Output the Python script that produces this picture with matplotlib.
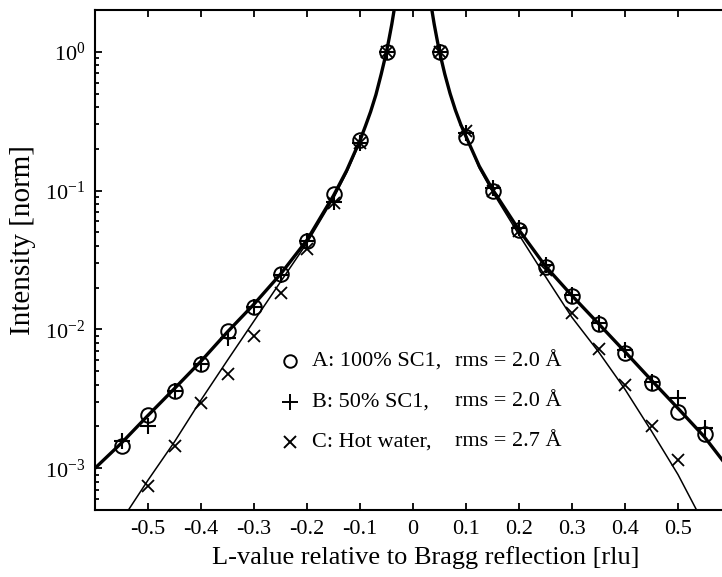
import numpy as np
import matplotlib
matplotlib.use("Agg")
import matplotlib.pyplot as plt
from matplotlib.ticker import FixedLocator, LogLocator, NullFormatter, FixedFormatter

# ── data (log intensity vs L) ──
L_AB = [-0.55, -0.5, -0.45, -0.4, -0.35, -0.3, -0.25, -0.2, -0.15, -0.1, -0.05,
        0.05, 0.1, 0.15, 0.2, 0.25, 0.3, 0.35, 0.4, 0.45, 0.5, 0.55]
I_A = [1.44e-3, 2.42e-3, 3.6e-3, 5.6e-3, 9.7e-3, 1.46e-2, 2.5e-2, 4.35e-2, 9.5e-2, 0.23, 1.0,
       1.0, 0.245, 0.10, 0.052, 0.028, 0.0174, 0.011, 6.8e-3, 4.1e-3, 2.55e-3, 1.75e-3]
I_B = [1.57e-3, 2.0e-3, 3.6e-3, 5.6e-3, 8.7e-3, 1.45e-2, 2.45e-2, 4.3e-2, 8.3e-2, 0.22, 1.0,
       1.0, 0.26, 0.105, 0.054, 0.029, 0.0178, 0.0112, 7.1e-3, 4.2e-3, 3.2e-3, 1.95e-3]
L_C = [-0.5, -0.45, -0.4, -0.35, -0.3, -0.25, -0.2, -0.15, -0.1, -0.05,
       0.05, 0.1, 0.15, 0.2, 0.25, 0.3, 0.35, 0.4, 0.45, 0.5]
I_C = [7.5e-4, 1.44e-3, 2.94e-3, 4.8e-3, 8.9e-3, 1.82e-2, 3.8e-2, 8.1e-2, 0.22, 1.0,
       1.0, 0.27, 0.10, 0.051, 0.027, 0.0132, 7.2e-3, 4.0e-3, 2.0e-3, 1.15e-3]

# fitted curves (traced points)
FIT_AB_L = [-0.6, -0.55, -0.5, -0.45, -0.4, -0.35, -0.3, -0.25, -0.2, -0.15, -0.125,
            -0.1, -0.09, -0.08, -0.07, -0.06, -0.05, -0.045, -0.04, -0.033]
FIT_AB_I = [1.0e-3, 1.52e-3, 2.4e-3, 3.75e-3, 5.9e-3, 9.6e-3, 1.52e-2, 2.5e-2, 4.4e-2, 9.2e-2, 0.14,
            0.23, 0.29, 0.37, 0.49, 0.69, 1.0, 1.25, 1.58, 2.3]
FIT_AB_R_L = [0.033, 0.04, 0.045, 0.05, 0.06, 0.07, 0.08, 0.09, 0.1, 0.125, 0.15, 0.2,
              0.25, 0.3, 0.35, 0.4, 0.45, 0.5, 0.55, 0.6]
FIT_AB_R_I = [2.3, 1.58, 1.25, 1.0, 0.69, 0.5, 0.38, 0.3, 0.245, 0.15, 0.102, 0.052,
              0.0285, 0.0175, 0.011, 0.0069, 0.0043, 0.0027, 0.00168, 0.00095]
FIT_C_L = [-0.54, -0.5, -0.45, -0.4, -0.35, -0.3, -0.25, -0.2, -0.15, -0.125,
           -0.1, -0.09, -0.08, -0.07, -0.06, -0.05, -0.045, -0.04, -0.033]
FIT_C_I = [4.8e-4, 8.2e-4, 1.55e-3, 3.1e-3, 6.0e-3, 1.15e-2, 2.2e-2, 4.2e-2, 8.8e-2, 0.135,
           0.225, 0.29, 0.37, 0.49, 0.69, 1.0, 1.25, 1.58, 2.3]
FIT_C_R_L = [0.033, 0.04, 0.045, 0.05, 0.06, 0.07, 0.08, 0.09, 0.1, 0.125, 0.15, 0.2,
             0.25, 0.3, 0.35, 0.4, 0.45, 0.5, 0.54]
FIT_C_R_I = [2.3, 1.58, 1.25, 1.0, 0.69, 0.5, 0.38, 0.3, 0.25, 0.145, 0.098, 0.048,
             0.024, 0.0122, 6.9e-3, 3.7e-3, 1.85e-3, 9.0e-4, 4.6e-4]

XTICKS = [-0.5, -0.4, -0.3, -0.2, -0.1, 0, 0.1, 0.2, 0.3, 0.4, 0.5]
XTICK_LABELS = ["-0.5", "-0.4", "-0.3", "-0.2", "-0.1", "0", "0.1", "0.2", "0.3", "0.4", "0.5"]
YTICKS = [1e-3, 1e-2, 1e-1, 1e0]
YTICK_LABELS = [r"$10^{-3}$", r"$10^{-2}$", r"$10^{-1}$", r"$10^{0}$"]
LEGEND_NAMES = ["A: 100% SC1,", "B: 50% SC1,", "C: Hot water,"]
LEGEND_RMS = ["rms = 2.0 Å", "rms = 2.0 Å", "rms = 2.7 Å"]

SERIF = "Liberation Serif"
plt.rcParams.update({
    "font.family": SERIF, "mathtext.fontset": "custom",
    "mathtext.rm": SERIF, "mathtext.it": SERIF + ":italic", "mathtext.default": "regular",
    "axes.unicode_minus": False, "axes.linewidth": 1.5,
})

fig = plt.figure(figsize=(7.22, 5.77), dpi=100)
ax = fig.add_axes([95 / 722, 67 / 577, 636 / 722, 500 / 577])

# fits
ax.plot(FIT_AB_L, FIT_AB_I, color="black", lw=2.4, zorder=2)
ax.plot(FIT_AB_R_L, FIT_AB_R_I, color="black", lw=2.4, zorder=2)
ax.plot(FIT_C_L, FIT_C_I, color="black", lw=1.1, zorder=2)
ax.plot(FIT_C_R_L, FIT_C_R_I, color="black", lw=1.1, zorder=2)

# data
ax.plot(L_AB, I_A, ls="none", marker="o", ms=10.5, mfc="none", mec="black", mew=1.4, zorder=3)
ax.plot(L_AB, I_B, ls="none", marker="+", ms=11, mec="black", mew=1.5, zorder=3)
ax.plot(L_C, I_C, ls="none", marker="x", ms=9, mec="black", mew=1.3, zorder=3)

ax.set_yscale("log")
ax.set_xlim(-0.6, 0.6)
ax.set_ylim(5e-4, 2.0)

ax.xaxis.set_major_locator(FixedLocator(XTICKS))
ax.xaxis.set_major_formatter(FixedFormatter(XTICK_LABELS))
ax.yaxis.set_major_locator(FixedLocator(YTICKS))
ax.yaxis.set_major_formatter(FixedFormatter(YTICK_LABELS))
ax.yaxis.set_minor_locator(LogLocator(base=10, subs=np.arange(2, 10)))
ax.yaxis.set_minor_formatter(NullFormatter())
ax.tick_params(which="both", direction="in", top=True, right=True, labelsize=16, width=1.3)
ax.tick_params(which="major", length=5, pad=7)
ax.tick_params(which="minor", length=3)

ax.set_xlabel("L-value relative to Bragg reflection [rlu]", fontsize=19)
ax.xaxis.set_label_coords(0.52, -0.072)
ax.set_ylabel("Intensity [norm]", fontsize=21)
ax.yaxis.set_label_coords(-0.093, 0.54)

# legend drawn by hand to keep the "rms" column aligned
row_y = [0.298, 0.216, 0.136]
for y, m, ms, name, rms in zip(row_y, ["o", "+", "x"], [9, 11, 8], LEGEND_NAMES, LEGEND_RMS):
    ax.plot([0.3066], [y], transform=ax.transAxes, marker=m, ms=ms, mfc="none",
            mec="black", mew=1.4, ls="none")
    ax.text(0.341, y, name, transform=ax.transAxes, fontsize=16, va="center")
    ax.text(0.566, y, rms, transform=ax.transAxes, fontsize=16, va="center")

fig.savefig("out.png", dpi=100)
